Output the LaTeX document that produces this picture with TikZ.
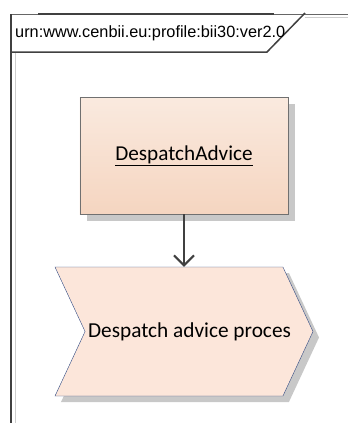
\documentclass[tikz,border=0pt]{standalone}
\usepackage{fontspec}
\setmainfont{Carlito}
\newfontfamily\urnfont{Liberation Sans}
\usetikzlibrary{positioning,shapes.symbols,shadows,arrows.meta}
\definecolor{framegrey}{RGB}{64,64,64}
\definecolor{lightframe}{RGB}{205,205,205}
\definecolor{boxtop}{RGB}{250,234,223}
\definecolor{boxbottom}{RGB}{245,213,192}
\definecolor{boxline}{RGB}{112,112,112}
\definecolor{procfill}{RGB}{252,230,218}
\definecolor{procline}{RGB}{46,72,130}
\definecolor{shadowgrey}{RGB}{200,200,200}
\tikzset{
    % Class box
    artifact/.style={
        rectangle,
        draw=boxline,
        top color=boxtop,
        bottom color=boxbottom,
        minimum width=208bp,
        minimum height=117bp,
        inner sep=0pt,
        font=\fontsize{21.2bp}{25bp}\selectfont,
        drop shadow={shadow xshift=7bp,shadow yshift=-7bp,fill=shadowgrey,opacity=1},
    },
    % Process chevron
    process/.style={
        signal,
        signal to=east,
        signal from=west,
        signal pointer angle=130,
        draw=procline,
        fill=procfill,
        minimum width=258bp,
        minimum height=129bp,
        inner sep=0pt,
        font=\fontsize{21.3bp}{25bp}\selectfont,
        drop shadow={shadow xshift=6bp,shadow yshift=-6bp,fill=shadowgrey,opacity=1},
    },
    flow/.style={
        draw=framegrey,
        line width=2bp,
        -{Straight Barb[length=10bp,width=20bp]},
    },
}
\begin{document}
\begin{tikzpicture}[x=1bp,y=-1bp]
    \useasboundingbox (0,0) rectangle (348,423);
    % Frame
    \draw[lightframe, line width=1bp] (15,52) -- (15,423);
    \draw[lightframe, line width=1bp] (305,17) -- (348,17);
    \draw[framegrey!80, line width=1bp] (11,14) -- (348,14);
    \draw[framegrey, line width=1.2bp] (11,14) -- (11,423);
    \draw[framegrey, line width=2bp] (38,14) -- (274,14);
    \draw[framegrey, line width=1.5bp] (10,52) -- (267,52) -- (305,13);
    \node[anchor=west, inner sep=0pt, font=\urnfont\fontsize{16.3bp}{18bp}\selectfont] (urn) at (15,33) {urn:www.cenbii.eu:profile:bii30:ver2.0};
    % Elements
    \node[artifact] (advice) at (184,155.5) {\underline{DespatchAdvice}};
    \node[process] (proc) at (184,331.5) {\makebox[0pt]{\hspace*{11bp}Despatch advice proces}};
    % Draw flow
    \draw[flow] (advice.south) -- (proc.north);
\end{tikzpicture}
\end{document}
